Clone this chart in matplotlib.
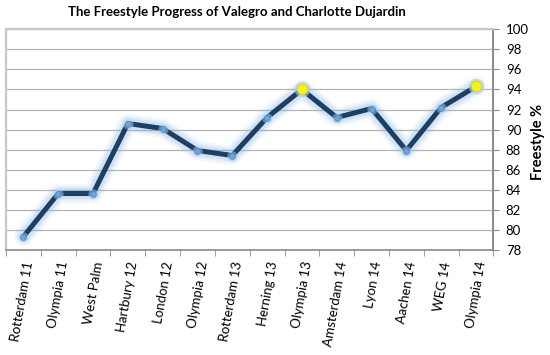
import matplotlib
matplotlib.use("Agg")
import matplotlib.pyplot as plt
import numpy as np

# freestyle scores
events = ["Rotterdam 11", "Olympia 11", "West Palm", "Hartbury 12", "London 12",
          "Olympia 12", "Rotterdam 13", "Herning 13", "Olympia 13", "Amsterdam 14",
          "Lyon 14", "Aachen 14", "WEG 14", "Olympia 14"]
scores = [79.3, 83.6, 83.6, 90.6, 90.1, 87.9, 87.4, 91.2, 94.0, 91.2, 92.1, 87.9, 92.2, 94.3]
highlight = ["Olympia 13", "Olympia 14"]

plt.rcParams['font.family'] = ['Lato', 'DejaVu Sans']

fig = plt.figure(figsize=(5.5, 3.55), dpi=100)
ax = fig.add_axes([0.011, 0.297, 0.886, 0.62])

x = np.arange(len(events))

# glow under the line
for lw, a in [(14, 0.08), (11, 0.12), (8, 0.2)]:
    ax.plot(x, scores, color="#7fb2e5", lw=lw, alpha=a, solid_capstyle="round",
            solid_joinstyle="round", zorder=3)
ax.plot(x, scores, color="#1d3f63", lw=3.6, solid_joinstyle="round", zorder=4)

# markers
norm = [i for i, e in enumerate(events) if e not in highlight]
hi = [i for i, e in enumerate(events) if e in highlight]
ax.scatter(x[norm], [scores[i] for i in norm], s=55, color="#a9cdef", alpha=0.5,
           lw=0, zorder=5)
ax.scatter(x[norm], [scores[i] for i in norm], s=18, color="#6ea6dc",
           edgecolor="#4f86c0", lw=0.5, zorder=6)
ax.scatter(x[hi], [scores[i] for i in hi], s=130, color="#a9cdef", alpha=0.6,
           lw=0, zorder=5)
ax.scatter(x[hi], [scores[i] for i in hi], s=60, color="#f7f01a",
           edgecolor="#d9d200", lw=0.5, zorder=6)

ax.set_xlim(-0.5, len(events) - 0.5)
ax.set_ylim(78, 100)
ax.set_yticks(np.arange(78, 101, 2))
ax.yaxis.tick_right()
ax.grid(axis="y", color="#b5b5b5", lw=0.9)
ax.set_axisbelow(True)

ax.set_xticks(x)
ax.set_xticklabels(events, rotation=80, ha="right", rotation_mode="anchor",
                   fontsize=9.5)
ax.set_xticks(np.arange(-0.5, len(events) + 0.5, 1), minor=True)
ax.tick_params(axis="x", which="major", length=0, pad=8)
ax.tick_params(axis="x", which="minor", length=4, color="#8c8c8c")
ax.tick_params(axis="y", length=4, color="#8c8c8c", labelsize=9.5, pad=5)

for side in ["top", "left"]:
    ax.spines[side].set_color("#c8c8c8")
    ax.spines[side].set_linewidth(1.6)
ax.spines["right"].set_color("#8a8a8a")
ax.spines["right"].set_linewidth(1.4)
ax.spines["bottom"].set_color("#8a8a8a")
ax.spines["bottom"].set_linewidth(1.2)

fig.text(0.43, 0.965, "The Freestyle Progress of Valegro and Charlotte Dujardin",
         ha="center", va="center", fontsize=9.5, fontweight="bold")
fig.text(0.978, 0.6, "Freestyle %", rotation=90, ha="center", va="center",
         fontsize=10.5, fontweight="bold")

fig.savefig("out.png", dpi=100)
